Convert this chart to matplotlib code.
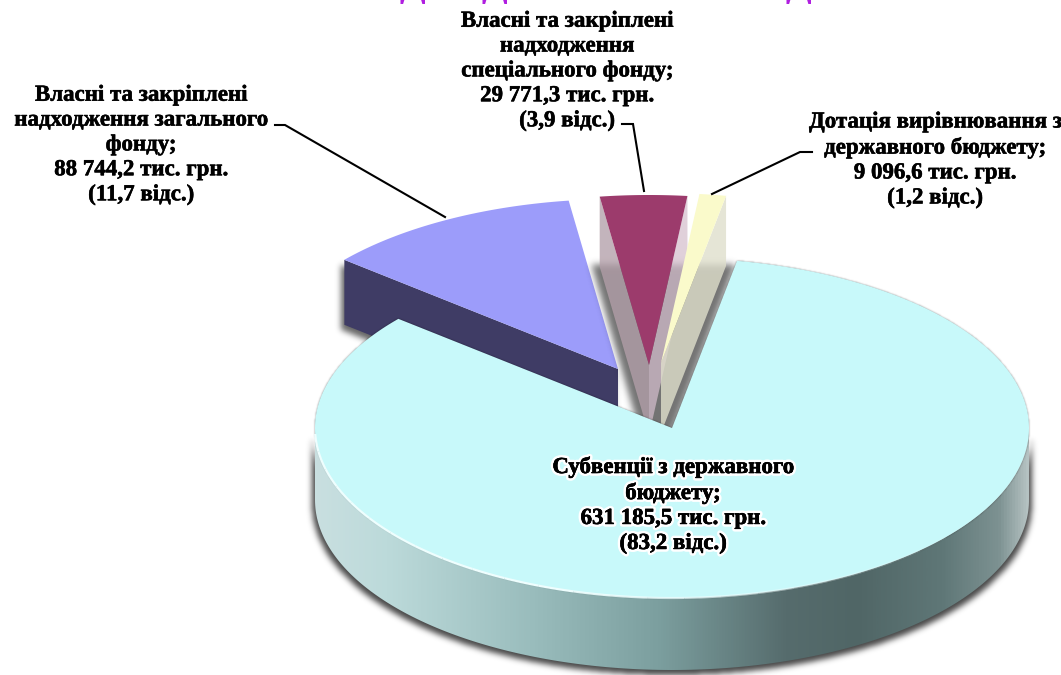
import matplotlib
matplotlib.use("Agg")
import matplotlib.pyplot as plt
import numpy as np
import matplotlib.patheffects as pe
from matplotlib.colors import LinearSegmentedColormap
from matplotlib.patches import Polygon
from matplotlib.path import Path

# data, starting with the big slice and going clockwise
names = ["Субвенції з державного\nбюджету",
         "Власні та закріплені\nнадходження загального\nфонду",
         "Власні та закріплені\nнадходження\nспеціального фонду",
         "Дотація вирівнювання з\nдержавного бюджету"]
values = [631185.5, 88744.2, 29771.3, 9096.6]
percents = [83.2, 11.7, 3.9, 1.2]

W, H = 1061, 675
A, B = 357, 170      # ellipse half axes in px
DEPTH = 72
START = 10.5         # first slice edge, degrees clockwise from the top
FONT = "Liberation Serif"

# where each slice tip ends up (explosion)
tips = [(672, 428), (618, 369), (649, 365), (661, 363)]
top_colors = ["#c8f9fa", "#9c9cfa", "#9c3b6c", "#fafacb"]

fig = plt.figure(figsize=(W / 100, H / 100), dpi=100)
ax = fig.add_axes([0, 0, 1, 1])
ax.set_xlim(0, W)
ax.set_ylim(H, 0)
ax.axis("off")


def arc(tip, t0, t1, n=200):
    t = np.radians(np.linspace(t0, t1, n))
    return np.column_stack([tip[0] + A * np.sin(t), tip[1] - B * np.cos(t)])


def blur_shadow(poly, sigma, alpha, zorder):
    # soft shadow: rasterise polygon, gaussian blur it, show as black alpha
    xx, yy = np.meshgrid(np.arange(W) + 0.5, np.arange(H) + 0.5)
    pts = np.column_stack([xx.ravel(), yy.ravel()])
    mask = Path(poly).contains_points(pts).reshape(H, W).astype(float)
    k = np.exp(-0.5 * (np.arange(-3 * sigma, 3 * sigma + 1) / sigma) ** 2)
    k /= k.sum()
    mask = np.apply_along_axis(lambda r: np.convolve(r, k, mode="same"), 0, mask)
    mask = np.apply_along_axis(lambda r: np.convolve(r, k, mode="same"), 1, mask)
    rgba = np.zeros((H, W, 4))
    rgba[..., 3] = mask * alpha
    ax.imshow(rgba, extent=(0, W, H, 0), zorder=zorder, aspect="auto")


def fmt(v):
    s = f"{v:,.1f}".replace(",", " ").replace(".", ",")
    return s


edges = START + np.concatenate([[0], np.cumsum(values)]) / np.sum(values) * 360
angles = [(edges[i], edges[i + 1]) for i in range(len(values))]

# blue slice with its dark wall
t0, t1 = angles[1]
outer = arc(tips[1], t0, t1)
blue_wall = np.array([outer[0], outer[0] + [0, DEPTH - 7], tips[1] + np.array([0, DEPTH - 7]), tips[1]])
blur_shadow(blue_wall + [-3, 5], 3, 0.6, 1)
ax.add_patch(Polygon(blue_wall, fc="#3f3c65", ec="none", zorder=2))
ax.add_patch(Polygon(np.vstack([outer, [tips[1]]]), fc=top_colors[1], ec="none", zorder=3))

# shadow below the two small slices
v_shadow = np.array([(591, 264), (735, 264), (671, 434), (640, 434)])
blur_shadow(v_shadow, 3.5, 0.55, 4)

# big slice: side wall with gradient, shadow, top
tip = tips[0]
t0, t1 = angles[0]
front = arc(tip, 90, 270)
wall = np.vstack([front, (front + [0, DEPTH])[::-1]])
# a bit wider than the wall so it shows left and right too
big_shadow = (wall - [tip[0], 0]) * [1.008, 1] + [tip[0], 5]
blur_shadow(big_shadow, 3, 0.72, 5)
cmap = LinearSegmentedColormap.from_list("side", [
    (0.0, "#c9dfe0"), (0.1, "#bcdada"), (0.3, "#9abdbd"), (0.48, "#7c9f9f"),
    (0.66, "#566c6d"), (0.76, "#506666"), (0.88, "#5f7777"), (0.96, "#7d9292"), (1.0, "#b5c2c2")])
grad = np.linspace(0, 1, 512).reshape(1, -1)
im = ax.imshow(grad, cmap=cmap, extent=(tip[0] - A, tip[0] + A, H, 0), aspect="auto", zorder=6)
im.set_clip_path(Polygon(wall, transform=ax.transData))

# translucent walls of the two small slices, they end under the big top
t0_p, t1_p = angles[2]
out = arc(tips[2], t0_p, t1_p)
low = np.array([0, DEPTH - 2])
tp = np.array(tips[2])
ax.add_patch(Polygon([out[0], out[0] + low, tp + low, tp], fc="#b39fa9", alpha=0.78, ec="none", zorder=6.2))
ax.add_patch(Polygon([out[-1], out[-1] + low, tp + low, tp], fc="#d4becc", alpha=0.72, ec="none", zorder=6.2))
t0_y, t1_y = angles[3]
out_y = arc(tips[3], t0_y, t1_y)
tp_y = np.array(tips[3])
ax.add_patch(Polygon([out_y[-1], out_y[-1] + low, tp_y + low, tp_y], fc="#dfdfcc", alpha=0.8, ec="none", zorder=6.3))

top_main = np.vstack([arc(tip, t0, t1, 500), [tip]])
blur_shadow(top_main, 1, 0.45, 6.5)
ax.add_patch(Polygon(top_main, fc=top_colors[0], ec="none", zorder=7))
# white rim on the front edge, fading out to the right
rim_steps = np.linspace(130, 268, 24)
for j in range(len(rim_steps) - 1):
    ax.plot(*arc(tip, rim_steps[j], rim_steps[j + 1], 12).T, color="#eefefe", lw=1.6,
            alpha=min(1.0, (j + 1) / 12), zorder=7.5, solid_capstyle="butt")

# top faces of the small slices
ax.add_patch(Polygon(np.vstack([out, [tp]]), fc=top_colors[2], ec="none", zorder=9))
ax.add_patch(Polygon(np.vstack([out_y, [tp_y]]), fc=top_colors[3], ec="none", zorder=8.5))

# leader lines
for xs, ys in [((275, 285, 445), (125, 125, 217)),
               ((622, 633, 644), (124, 124, 191)),
               ((812, 800, 712), (152, 152, 194))]:
    ax.plot(xs, ys, color="black", lw=1.5, zorder=10, solid_joinstyle="miter")

# labels
label_pos = [(673, 505), (141, 145), (567, 71), (935, 160)]
for i in range(len(values)):
    txt = f"{names[i]};\n{fmt(values[i])} тис. грн.\n({fmt(percents[i])} відс.)"
    t = ax.text(label_pos[i][0], label_pos[i][1], txt, ha="center", va="center", family=FONT,
                weight="bold", fontsize=16.5, color="black", linespacing=1.24, zorder=11)
    if i == 0:
        t.set_path_effects([pe.withStroke(linewidth=4, foreground="white"),
                            pe.withStroke(linewidth=0.4, foreground="black")])
    else:
        t.set_path_effects([pe.withStroke(linewidth=0.4, foreground="black")])

# the feet of the cut off heading at the very top
for x in (412, 494, 798):
    ax.text(x, 4, "Д", ha="center", va="bottom", family=FONT, weight="bold",
            fontsize=27, color="#b01fe0", zorder=11, clip_on=True)

ax.set_xlim(0, W)
ax.set_ylim(H, 0)
fig.savefig("out.png", dpi=100, facecolor="white")
